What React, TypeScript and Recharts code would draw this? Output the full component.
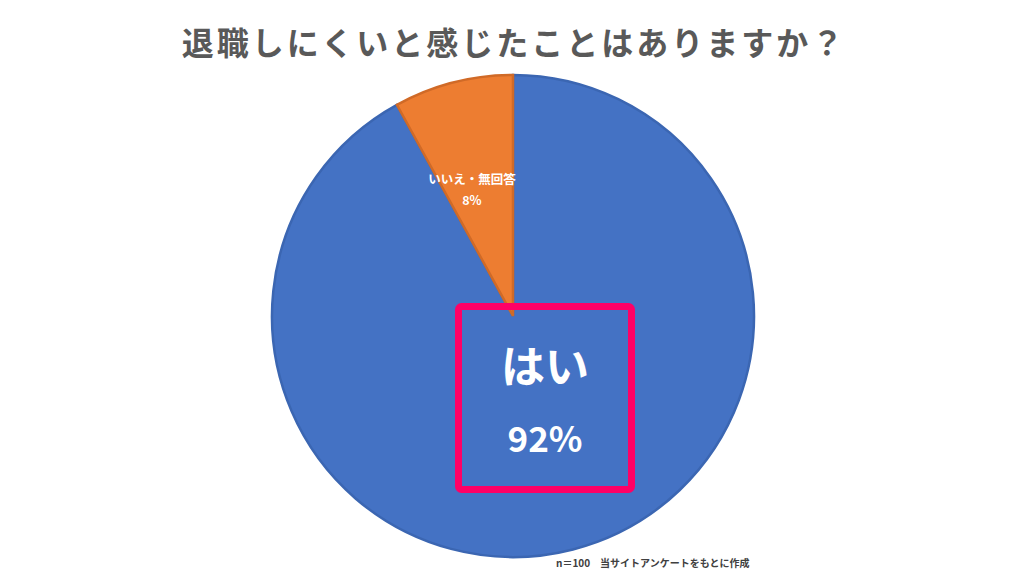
import React from "react";
import { PieChart, Pie, Cell } from "recharts";

const categories = ["はい", "いいえ・無回答"];
const values = [92, 8];
const colors = ["#4472C4", "#ED7D31"];
const strokes = ["#3B66B2", "#D06A27"];
const titleText = "退職しにくいと感じたことはありますか？";
const noteText = "n＝100　当サイトアンケートをもとに作成";

const data = categories.map((name, i) => ({ name, value: values[i] }));

const FONT = "'Noto Sans CJK JP', 'Noto Sans', sans-serif";

const renderLabel = (props: any) => {
  const { cx, cy, midAngle, outerRadius, index, name, percent } = props;
  const RAD = Math.PI / 180;
  const pct = `${Math.round(percent * 100)}%`;
  if (index === 1) {
    const r = outerRadius * 0.585;
    const x = cx + r * Math.cos(-midAngle * RAD) - 6;
    const y = cy + r * Math.sin(-midAngle * RAD);
    return (
      <g key="l1">
        <text x={x} y={y - 1} textAnchor="middle" dominantBaseline="central" fill="#fff" fontFamily={FONT} fontWeight={700} fontSize={12.5}>
          {name}
        </text>
        <text x={x} y={y + 20} textAnchor="middle" dominantBaseline="central" fill="#fff" fontFamily={FONT} fontWeight={700} fontSize={12.5}>
          {pct}
        </text>
      </g>
    );
  }
  const bx = cx + 32;
  const by = cy + 82;
  return (
    <g key="l0">
      <rect x={bx - 86.5} y={by - 91.5} width={173} height={183} rx={3} fill="none" stroke="#FF0066" strokeWidth={7} />
      <text x={bx} y={by - 34} textAnchor="middle" dominantBaseline="central" fill="#fff" fontFamily={FONT} fontWeight={700} fontSize={44}>
        {name}
      </text>
      <text x={bx} y={by + 38} textAnchor="middle" dominantBaseline="central" fill="#fff" fontFamily={FONT} fontWeight={600} fontSize={35}>
        {pct}
      </text>
    </g>
  );
};

export default function App() {
  return (
    <div style={{ position: "absolute", left: 0, top: 0, width: 1024, height: 576, background: "#fff", fontFamily: FONT }}>
      <div
        style={{
          position: "absolute",
          left: 0,
          top: 17,
          width: 1024,
          textAlign: "center",
          fontSize: 32,
          fontWeight: 700,
          color: "#595959",
          letterSpacing: 3,
          lineHeight: "48px",
          marginLeft: 2,
        }}
      >
        {titleText}
      </div>
      <PieChart width={1024} height={576}>
        <Pie
          data={data}
          dataKey="value"
          nameKey="name"
          cx={508}
          cy={311}
          outerRadius={241}
          startAngle={90}
          endAngle={-270}
          label={renderLabel}
          labelLine={false}
          isAnimationActive={false}
        >
          {data.map((d, i) => (
            <Cell key={d.name} fill={colors[i]} stroke={strokes[i]} strokeWidth={2.5} />
          ))}
        </Pie>
      </PieChart>
      <div
        style={{
          position: "absolute",
          left: 556,
          top: 555,
          fontSize: 10,
          fontWeight: 700,
          color: "#404040",
          whiteSpace: "nowrap",
        }}
      >
        {noteText}
      </div>
    </div>
  );
}
